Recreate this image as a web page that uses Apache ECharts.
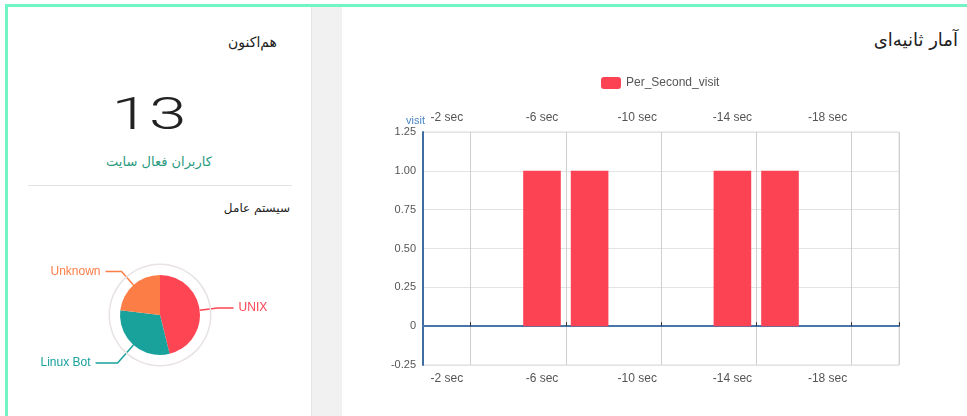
<!DOCTYPE html>
<html>
<head>
<meta charset="utf-8">
<script src="https://cdn.jsdelivr.net/npm/echarts@6/dist/echarts.min.js"></script>
<style>
    body { margin: 0; width: 967px; height: 416px; overflow: hidden; background: #fff; position: relative; }
    .frame { position: absolute; left: 5px; top: 4px; width: 962px; height: 412px;
             border-top: 3px solid #72f4c4; border-left: 3px solid #72f4c4; box-sizing: border-box; }
    .gap { position: absolute; left: 311px; top: 7px; width: 30px; height: 409px; background: #f1f1f1;
           border-left: 1px solid #e6e6e6; }
    .txt { position: absolute; direction: rtl; font-family: "DejaVu Sans", sans-serif; color: #222; white-space: nowrap; }
    #chart { position: absolute; left: 0; top: 0; width: 967px; height: 416px; }
</style>
</head>
<body>
<div class="frame"></div>
<div class="gap"></div>

<div class="txt" style="right:690px; top:32px; font-size:14px; line-height:20px;">هم‌اکنون</div>
<div class="txt" style="left:0px; width:298px; top:91px; text-align:center; direction:ltr; font-family:Roboto, sans-serif; font-weight:300; font-size:45px; line-height:45px; color:#222; transform:scaleX(1.5);">13</div>
<div class="txt" style="left:8px; width:302px; top:153px; text-align:center; font-size:13px; line-height:18px; color:#2a9a7e;">کاربران فعال سایت</div>
<div style="position:absolute; left:28px; top:185px; width:264px; height:1px; background:#e2e2e2;"></div>
<div class="txt" style="right:677px; top:199px; font-size:12px; line-height:18px;">سیستم عامل</div>
<div class="txt" style="right:9px; top:28px; font-size:18px; line-height:24px;">آمار ثانیه‌ای</div>

<div id="chart"></div>

<script>
// ثانیه ها و بازدید
var secCats = ['-2 sec', '-4 sec', '-6 sec', '-8 sec', '-10 sec', '-12 sec', '-14 sec', '-16 sec', '-18 sec', '-20 sec'];
var visitValues = [0, 0, 1, 1, 0, 0, 1, 1, 0, 0];
var yMin = -0.25, yMax = 1.25, yStep = 0.25;

// سیستم عامل
var osNames = ['UNIX', 'Linux Bot', 'Unknown'];
var osCounts = [6, 4, 3];
var osColors = ['#fd4553', '#19a19b', '#fc7d46'];

var font = '"Liberation Sans", Arial, sans-serif';

// split lines / ticks after every labelled category
function oddIdx(idx) {
    return idx % 2 === 1;
}

var osData = [];
for (var i = 0; i < osNames.length; i++) {
    osData.push({
        name: osNames[i],
        value: osCounts[i],
        itemStyle: {color: osColors[i]},
        label: {color: osColors[i]},
        labelLine: {lineStyle: {color: osColors[i]}}
    });
}
// Linux Bot label sits a bit further out
osData[1].labelLine.length = 24;
osData[1].labelLine.length2 = 22;

var myChart = echarts.init(document.getElementById('chart'));

var option = {
    animation: false,
    textStyle: {fontFamily: font},
    legend: {
        data: ['Per_Second_visit'],
        left: 596,
        top: 72,
        itemWidth: 20,
        itemHeight: 12,
        textStyle: {fontSize: 12, color: '#555', fontFamily: font}
    },
    grid: {
        left: 423, top: 132, width: 476, height: 233,
        show: true, borderColor: '#dcdcdc', borderWidth: 1
    },
    xAxis: [{
        type: 'category',
        data: secCats,
        position: 'bottom',
        axisLine: {onZero: true, lineStyle: {color: '#4776a8', width: 2}},
        axisTick: {show: true, interval: oddIdx, inside: true, length: 4, lineStyle: {color: '#333'}},
        axisLabel: {show: false},
        splitLine: {show: true, interval: oddIdx, lineStyle: {color: '#cfcfcf'}}
    }, {
        type: 'category',
        data: secCats,
        position: 'top',
        axisLine: {show: false, onZero: false},
        axisTick: {show: false},
        axisLabel: {interval: 1, fontSize: 12, color: '#555', margin: 8},
        splitLine: {show: false}
    }, {
        type: 'category',
        data: secCats,
        position: 'bottom',
        axisLine: {show: false, onZero: false},
        axisTick: {show: false},
        axisLabel: {interval: 1, fontSize: 12, color: '#555', margin: 8},
        splitLine: {show: false}
    }],
    yAxis: {
        type: 'value',
        min: yMin,
        max: yMax,
        interval: yStep,
        name: 'visit',
        nameGap: 6,
        nameMoveOverlap: false,
        nameTextStyle: {color: '#4a86c6', fontSize: 11, align: 'right', padding: [0, -2, 0, 0]},
        axisLine: {show: true, lineStyle: {color: '#3f6da2', width: 2}},
        axisTick: {show: false},
        axisLabel: {
            fontSize: 11, color: '#555', margin: 7,
            formatter: function (v) {
                return v === 0 ? '0' : v.toFixed(2);
            }
        },
        splitLine: {lineStyle: {color: '#e3e3e3'}}
    },
    series: [{
        name: 'Per_Second_visit',
        type: 'bar',
        xAxisIndex: 0,
        yAxisIndex: 0,
        barCategoryGap: '21%',
        data: visitValues,
        color: '#fc4353',
        itemStyle: {color: '#fc4353'}
    }, {
        name: 'os',
        type: 'pie',
        center: [160, 315],
        radius: [0, 40],
        startAngle: 90,
        clockwise: true,
        data: osData,
        label: {fontSize: 12, fontFamily: font},
        labelLine: {length: 18, length2: 16, lineStyle: {width: 1.5}},
        emphasis: {disabled: true}
    }, {
        name: 'ring',
        type: 'pie',
        center: [160, 315],
        radius: [50, 51.5],
        silent: true,
        label: {show: false},
        labelLine: {show: false},
        data: [{name: 'ring', value: 1, itemStyle: {color: '#e8e2e2'}}],
        emphasis: {disabled: true}
    }]
};

myChart.setOption(option);
</script>
</body>
</html>
